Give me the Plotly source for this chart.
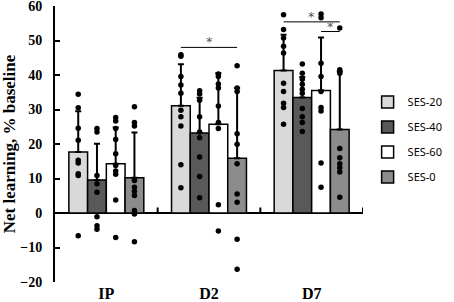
import plotly.graph_objects as go

categories = ["IP", "D2", "D7"]
series_names = ["SES-20", "SES-40", "SES-60", "SES-0"]
colors = ["#d9d9d9", "#595959", "#ffffff", "#8c8c8c"]

means = {
    "SES-20": [17.7, 31.1, 41.3],
    "SES-40": [9.6, 23.2, 33.5],
    "SES-60": [14.3, 25.7, 35.5],
    "SES-0": [10.2, 15.9, 24.2],
}
errors = {
    "SES-20": [11.8, 12.0, 10.4],
    "SES-40": [10.5, 10.2, 5.9],
    "SES-60": [10.5, 14.8, 15.4],
    "SES-0": [13.1, 20.3, 16.8],
}
points = {
    "SES-20": [
        [34.4, 30.5, 24.6, 21.1, 15.3, 14.5, 11.4, 10.9, -6.6],
        [45.9, 45.4, 39.6, 37.1, 34.7, 29.8, 27.9, 25.2, 14.0, 7.3],
        [57.5, 53.2, 50.7, 48.3, 46.4, 37.6, 35.2, 31.8, 30.6, 25.7],
    ],
    "SES-40": [
        [24.5, 23.5, 10.9, 8.5, 6.0, -1.1, -3.7, -4.7],
        [35.4, 34.5, 32.7, 27.9, 23.5, 21.8, 16.2, 10.6, 4.4],
        [43.2, 40.5, 38.8, 37.3, 35.9, 34.7, 30.3, 27.9, 26.2, 23.6],
    ],
    "SES-60": [
        [27.7, 26.7, 24.5, 21.3, 17.2, 13.8, 12.2, 11.2, 3.8, -7.1],
        [40.3, 39.6, 37.4, 36.2, 31.0, 26.2, 24.5, 2.4, -5.2],
        [57.7, 56.6, 43.4, 39.6, 35.2, 30.6, 29.6, 14.5, 7.5],
    ],
    "SES-0": [
        [30.8, 26.2, 25.2, 9.4, 7.5, 6.3, 5.1, 0.7, -0.3, -8.3],
        [42.7, 36.2, 35.2, 23.0, 19.9, 14.3, 5.5, 3.1, -7.6, -16.3],
        [53.6, 41.5, 40.5, 18.7, 16.0, 14.3, 13.1, 11.9, 4.6],
    ],
}
# significance brackets: (category index, from series, to series, y level)
sig_brackets = [
    (1, "SES-20", "SES-0", 48.0),
    (2, "SES-20", "SES-0", 55.4),
    (2, "SES-60", "SES-0", 52.6),
]
y_ticks = [-20, -10, 0, 10, 20, 30, 40, 50, 60]

BARGAP = 0.27
bar_w = (1 - BARGAP) / len(series_names)

def offset(name):
    i = series_names.index(name)
    return (i - (len(series_names) - 1) / 2) * bar_w

fig = go.Figure()
for name, col in zip(series_names, colors):
    fig.add_trace(go.Bar(
        x=categories, y=means[name], name=name, offsetgroup=name, legendgroup=name,
        marker=dict(color=col, line=dict(color="black", width=1.5)),
        error_y=dict(type="data", array=errors[name], arrayminus=[0] * 3,
                     symmetric=False, color="black", thickness=2, width=3),
    ))
for name in series_names:
    xs, ys = [], []
    for cat, vals in zip(categories, points[name]):
        xs += [cat] * len(vals)
        ys += vals
    fig.add_trace(go.Scatter(
        x=xs, y=ys, mode="markers", offsetgroup=name, showlegend=False,
        marker=dict(color="black", size=5.5), hoverinfo="skip",
    ))

shapes = []
for k in range(1, len(categories) + 1):
    shapes.append(dict(type="line", xref="x", yref="y", x0=k - 0.5, x1=k - 0.5,
                       y0=0, y1=1.6, line=dict(color="black", width=2)))
annotations = []
for ci, a, b, yv in sig_brackets:
    x0 = ci + offset(a)
    x1 = ci + offset(b)
    shapes.append(dict(type="line", xref="x", yref="y", x0=x0, x1=x1, y0=yv, y1=yv,
                       line=dict(color="black", width=1)))
    annotations.append(dict(x=(x0 + x1) / 2, y=yv, xref="x", yref="y", text="*",
                            showarrow=False, yanchor="bottom", yshift=-4,
                            font=dict(family="DejaVu Sans", size=13, color="#555555")))

fig.update_layout(
    width=454, height=302,
    margin=dict(l=55, r=72, t=6, b=20),
    paper_bgcolor="white", plot_bgcolor="white",
    barmode="group", bargap=BARGAP, bargroupgap=0,
    scattermode="group", scattergap=BARGAP,
    shapes=shapes, annotations=annotations,
    legend=dict(x=1.015, y=0.705, xanchor="left", yanchor="top",
                font=dict(family="Noto Sans", size=11, color="black"),
                tracegroupgap=6, itemwidth=30),
    showlegend=True,
)
fig.update_xaxes(range=[-0.5, 2.5], showline=False, ticks="", showgrid=False,
                 automargin=False, ticklabeloverflow="allow", ticklabelstandoff=0,
                 tickfont=dict(family="Liberation Serif", size=16, color="black", weight="bold"))
fig.update_yaxes(range=[-20, 60], tickvals=y_ticks, showgrid=False,
                 automargin=False, ticklabeloverflow="allow",
                 showline=True, linecolor="black", linewidth=2,
                 ticks="inside", ticklen=5, tickwidth=2, tickcolor="black",
                 ticklabelstandoff=8,
                 zeroline=True, zerolinecolor="black", zerolinewidth=2,
                 tickfont=dict(family="Liberation Serif", size=14, color="black", weight="bold"),
                 title=dict(text="Net learning, % baseline", standoff=4,
                            font=dict(family="Liberation Serif", size=17, color="black", weight="bold")))
fig.write_html("out.html", config={"displayModeBar": False},
               post_script="document.body.style.margin='0';document.body.style.overflow='hidden';")
